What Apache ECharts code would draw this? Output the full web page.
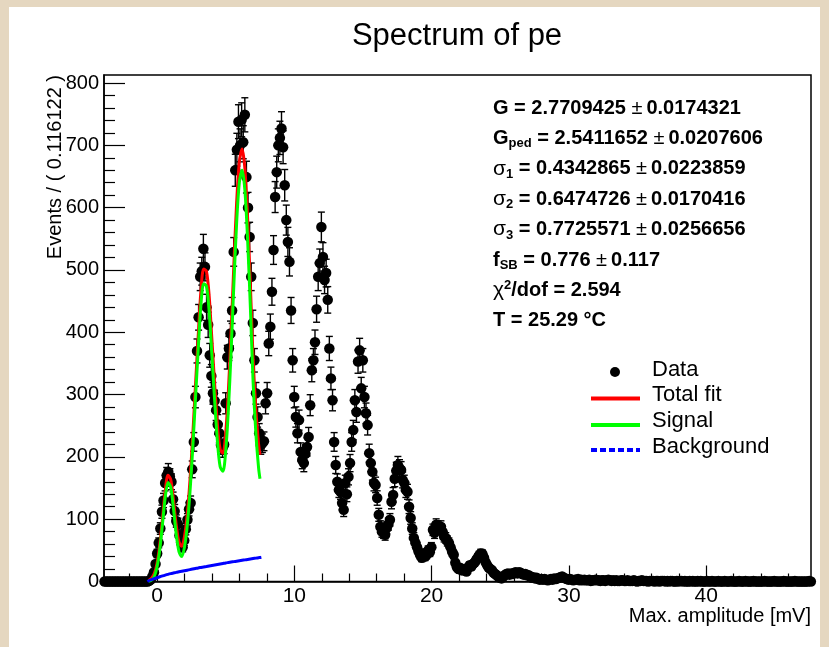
<!DOCTYPE html>
<html><head><meta charset="utf-8">
<script src="https://cdn.jsdelivr.net/npm/echarts@6/dist/echarts.min.js"></script>
<style>
html,body{margin:0;padding:0;background:#e5d7c0;width:829px;height:647px;overflow:hidden;}
#panel{position:absolute;left:9px;top:7px;width:811px;height:640px;background:#fff;}
#chart{position:absolute;left:0;top:0;width:829px;height:647px;}
</style></head><body>
<div id="panel"></div><div id="chart"></div>
<script>
// ---- data ----
const binStart = -3.88;      // lower edge of first bin
const binWidth = 0.116122;   // bin width (mV)
const counts = [
0,0,0,0,0,0,0,0,0,0,
0,0,0,0,0,0,0,0,0,0,
0,0,0,0,0,0,0,0,1,3,
8,15,28,45,62,85,112,130,158,170,
176,168,160,132,113,97,92,74,62,55,
66,84,99,116,126,180,224,296,370,424,
489,498,534,505,440,412,363,330,302,290,
275,252,238,219,214,220,286,360,374,398,
435,529,660,693,738,700,741,705,749,649,
600,553,489,415,355,302,264,238,219,222,
225,286,302,382,409,465,532,617,657,700,
712,727,697,636,580,545,513,435,355,296,
264,238,259,208,195,190,205,216,232,283,
339,355,384,437,489,511,569,521,484,495,
452,374,326,291,224,187,160,147,144,126,
115,158,140,168,190,224,243,291,272,353,
371,310,355,296,270,251,206,190,176,158,
155,134,107,88,80,78,75,86,92,99,
128,139,165,178,187,182,179,163,158,147,
144,120,102,85,70,62,55,48,42,38,
45,40,43,50,47,55,83,78,91,88,
85,88,80,72,70,65,62,55,48,43,
30,23,20,22,18,18,20,16,22,26,
24,28,30,34,38,42,45,44,38,31,
26,22,20,18,14,12,10,8,6,5,
8,10,12,13,11,13,12,14,15,13,
15,14,12,11,12,10,10,8,6,7,
5,6,4,3,4,3,4,3,2,3,
4,3,5,4,5,6,7,8,6,5,
4,3,4,3,2,3,3,4,2,3,
2,3,2,2,3,1,2,2,3,2,
2,1,2,2,1,2,3,2,1,2,
1,2,1,1,2,2,1,1,2,1,
1,1,2,1,0,1,1,2,1,1,
1,0,1,1,1,0,1,1,0,1,
1,1,0,1,0,1,1,0,0,1,
0,1,1,0,1,0,0,1,0,1,
0,0,1,0,1,0,0,0,1,0,
0,1,0,0,0,1,0,0,0,1,
0,0,0,1,0,0,0,0,1,0,
0,0,1,0,0,0,0,1,0,0,
0,0,0,0,1,0,0,0,0,0,
1,0,0,0,0,0,1,0,0,0,
0,0,0,1,0,0,0,0,0,0,
0,0,1,0
];

const fitX = [-0.6,-0.4,-0.2,0,0.2,0.4,0.6,0.8,1,1.2,1.4,1.6,1.8,2,2.2,2.4,2.6,2.8,3,3.2,3.4,3.6,3.8,4,4.2,4.4,4.6,4.8,5,5.2,5.4,5.6,5.8,6,6.2,6.4,6.6,6.8,7,7.2,7.4,7.5];
const totalFit = [1.7,5.4,12.6,29,58.6,101,145.3,170.5,163.6,130.6,90.6,63.5,56.4,72.3,107.2,162.1,233,313.9,393.8,466.6,501.4,498.2,458,387.8,316.6,252.4,212.2,206,237.8,306.5,402.2,509.9,608.6,674.3,694,662.7,583.4,476.1,356.8,275.5,220.2,203.5];
const signal = [0.5,2.4,8,23,51,92,135,159,151,117,76,48,40,55,89,143,213,293,372,444,478,474,433,362,290,225,184,177,208,276,371,478,576,641,660,628,548,440,320,238,182,165];
const bgX = [-0.7,-0.6,-0.4,-0.2,0,0.2,0.4,0.6,0.8,1,1.2,1.4,1.6,1.8,2,2.2,2.4,2.6,2.8,3,3.2,3.4,3.6,3.8,4,4.2,4.4,4.6,4.8,5,5.2,5.4,5.6,5.8,6,6.2,6.4,6.6,6.8,7,7.2,7.4,7.5,7.6];
const background = [0,1.2,3,4.6,6,7.6,9.0,10.3,11.5,12.6,13.6,14.6,15.5,16.4,17.3,18.2,19.1,20.0,20.9,21.8,22.6,23.4,24.2,25.0,25.8,26.6,27.4,28.2,29.0,29.8,30.5,31.2,31.9,32.6,33.3,34.0,34.7,35.4,36.1,36.8,37.5,38.2,38.5,38.9];

const xTicks = [0,10,20,30,40];
const xMinorTicks = [-2,2,4,6,8,12,14,16,18,22,24,26,28,32,34,36,38,42,44,46];
const yTicks = [0,100,200,300,400,500,600,700,800];
const yMinorTicks = [20,40,60,80,120,140,160,180,220,240,260,280,320,340,360,380,420,440,460,480,520,540,560,580,620,640,660,680,720,740,760,780];

const fitParams = [
  '{b|G = 2.7709425 }{p|±}{b|0.0174321}',
  '{b|G}{s|ped}{b| = 2.5411652 }{p|±}{b|0.0207606}',
  '{g|σ}{s|1}{b| = 0.4342865 }{p|±}{b|0.0223859}',
  '{g|σ}{s|2}{b| = 0.6474726 }{p|±}{b|0.0170416}',
  '{g|σ}{s|3}{b| = 0.7725571 }{p|±}{b|0.0256656}',
  '{b|f}{s|SB}{b| = 0.776 }{p|±}{b|0.117}',
  '{g|χ}{u|2}{b|/dof = 2.594}',
  '{b|T = 25.29 °C}'
];
const legendItems = ['Data','Total fit','Signal','Background'];

// ---- chart ----
const FONT = '"Liberation Sans", Arial, Helvetica, sans-serif';
const xMin = -3.86, xMax = 47.63, yMax = 812.9;
const chart = echarts.init(document.getElementById('chart'), null, {renderer:'canvas', width:829, height:647});

const pts = counts.map((v,i)=>[binStart+(i+0.5)*binWidth, v, Math.sqrt(v)]);

const rich = {
  b:{fontSize:20, fontWeight:'bold', fontFamily:FONT, fill:'#000'},
  p:{fontSize:20, fontWeight:'normal', fontFamily:FONT, fill:'#000', padding:[0,4,0,0]},
  g:{fontSize:21, fontWeight:'normal', fontFamily:FONT, fill:'#000'},
  s:{fontSize:13, fontWeight:'bold', fontFamily:FONT, fill:'#000', padding:[11,0,0,0]},
  u:{fontSize:13, fontWeight:'bold', fontFamily:FONT, fill:'#000', padding:[0,0,10,0]}
};

const graphics = [];
graphics.push({type:'text', x:457, y:36, style:{text:'Spectrum of pe', font:'31px '+FONT, fill:'#000', align:'center', verticalAlign:'middle', textAlign:'center', textVerticalAlign:'middle'}});
graphics.push({type:'text', x:811, y:616, style:{text:'Max. amplitude [mV]', font:'20px '+FONT, fill:'#000', align:'right', verticalAlign:'middle', textAlign:'right', textVerticalAlign:'middle'}});
graphics.push({type:'text', x:55, y:75, rotation:Math.PI/2, style:{text:'Events / ( 0.116122 )', font:'20px '+FONT, fill:'#000', align:'right', verticalAlign:'middle', textAlign:'right', textVerticalAlign:'middle'}});
fitParams.forEach((t,k)=>{
  graphics.push({type:'text', x:493, y:108+k*30.4, style:{text:t, rich:rich, fill:'#000', font:'bold 20px '+FONT, align:'left', verticalAlign:'middle', textAlign:'left', textVerticalAlign:'middle'}});
});
// legend
const legY = [370, 394.5, 420.5, 447];
legendItems.forEach((t,k)=>{
  graphics.push({type:'text', x:652, y:legY[k], style:{text:t, font:'22px '+FONT, fill:'#000', align:'left', verticalAlign:'middle', textAlign:'left', textVerticalAlign:'middle'}});
});
graphics.push({type:'circle', shape:{cx:615, cy:372, r:5}, style:{fill:'#000'}});
graphics.push({type:'line', shape:{x1:591, y1:398.5, x2:640, y2:398.5}, style:{stroke:'#ff0000', lineWidth:4}});
graphics.push({type:'line', shape:{x1:591, y1:425, x2:640, y2:425}, style:{stroke:'#00ff00', lineWidth:4}});
graphics.push({type:'line', shape:{x1:591, y1:450, x2:640, y2:450}, style:{stroke:'#0000ff', lineWidth:4, lineDash:[6,3]}});

const axisLine = {show:true, onZero:false, lineStyle:{color:'#000', width:1.5}};
const option = {
  animation:false,
  backgroundColor:'transparent',
  textStyle:{fontFamily:FONT},
  grid:{left:104, top:75, width:707, height:506.5, show:true, borderColor:'#000', borderWidth:1.5, backgroundColor:'transparent', containLabel:false, outerBoundsMode:'none'},
  xAxis:[
    {type:'value', min:xMin, max:xMax, position:'bottom', axisLine:axisLine,
     axisTick:{show:true, inside:true, length:16, customValues:xTicks, lineStyle:{color:'#000', width:1.2}},
     axisLabel:{show:true, customValues:xTicks, fontSize:21, color:'#000', margin:4, fontFamily:FONT},
     splitLine:{show:false}, minorTick:{show:false}},
    {type:'value', min:xMin, max:xMax, position:'bottom', axisLine:{show:false, onZero:false},
     axisTick:{show:true, inside:true, length:8, customValues:xMinorTicks, lineStyle:{color:'#000', width:1.2}},
     axisLabel:{show:false}, splitLine:{show:false}}
  ],
  yAxis:[
    {type:'value', min:0, max:yMax, position:'left', axisLine:axisLine,
     axisTick:{show:true, inside:true, length:21, customValues:yTicks, lineStyle:{color:'#000', width:1.2}},
     axisLabel:{show:true, customValues:yTicks, fontSize:20, color:'#000', margin:5, fontFamily:FONT},
     splitLine:{show:false}},
    {type:'value', min:0, max:yMax, position:'left', axisLine:{show:false, onZero:false},
     axisTick:{show:true, inside:true, length:11, customValues:yMinorTicks, lineStyle:{color:'#000', width:1.2}},
     axisLabel:{show:false}, splitLine:{show:false}}
  ],
  series:[
    {type:'custom', name:'errors', xAxisIndex:0, yAxisIndex:0, silent:true, clip:false, z:2,
     data:pts, encode:{x:0, y:1},
     renderItem:function(params, api){
       const x = api.value(0), y = api.value(1), e = api.value(2);
       if (!(e > 0)) return null;
       const t = api.coord([x, y+e]), b = api.coord([x, y-e]);
       const st = {stroke:'#000', lineWidth:1.4};
       return {type:'group', children:[
         {type:'line', shape:{x1:t[0], y1:t[1], x2:b[0], y2:b[1]}, style:st},
         {type:'line', shape:{x1:t[0]-3.5, y1:t[1], x2:t[0]+3.5, y2:t[1]}, style:st},
         {type:'line', shape:{x1:b[0]-3.5, y1:b[1], x2:b[0]+3.5, y2:b[1]}, style:st}
       ]};
     }},
    {type:'scatter', name:'Data', xAxisIndex:0, yAxisIndex:0, silent:true, clip:false, z:3,
     data:pts.map(p=>[p[0], p[1]]), symbol:'circle', symbolSize:10.5, itemStyle:{color:'#000', opacity:1}},
    {type:'line', name:'Total fit', xAxisIndex:0, yAxisIndex:0, silent:true, z:4, smooth:0.3, symbol:'none', showSymbol:false,
     data:fitX.map((x,i)=>[x, totalFit[i]]), lineStyle:{color:'#ff0000', width:3}},
    {type:'line', name:'Signal', xAxisIndex:0, yAxisIndex:0, silent:true, z:5, smooth:0.3, symbol:'none', showSymbol:false,
     data:fitX.map((x,i)=>[x, signal[i]]), lineStyle:{color:'#00ff00', width:3}},
    {type:'line', name:'Background', xAxisIndex:0, yAxisIndex:0, silent:true, z:6, smooth:0.3, symbol:'none', showSymbol:false,
     data:bgX.map((x,i)=>[x, background[i]]), lineStyle:{color:'#0000ff', width:3}}
  ],
  graphic:graphics
};
chart.setOption(option);
</script>
</body></html>
